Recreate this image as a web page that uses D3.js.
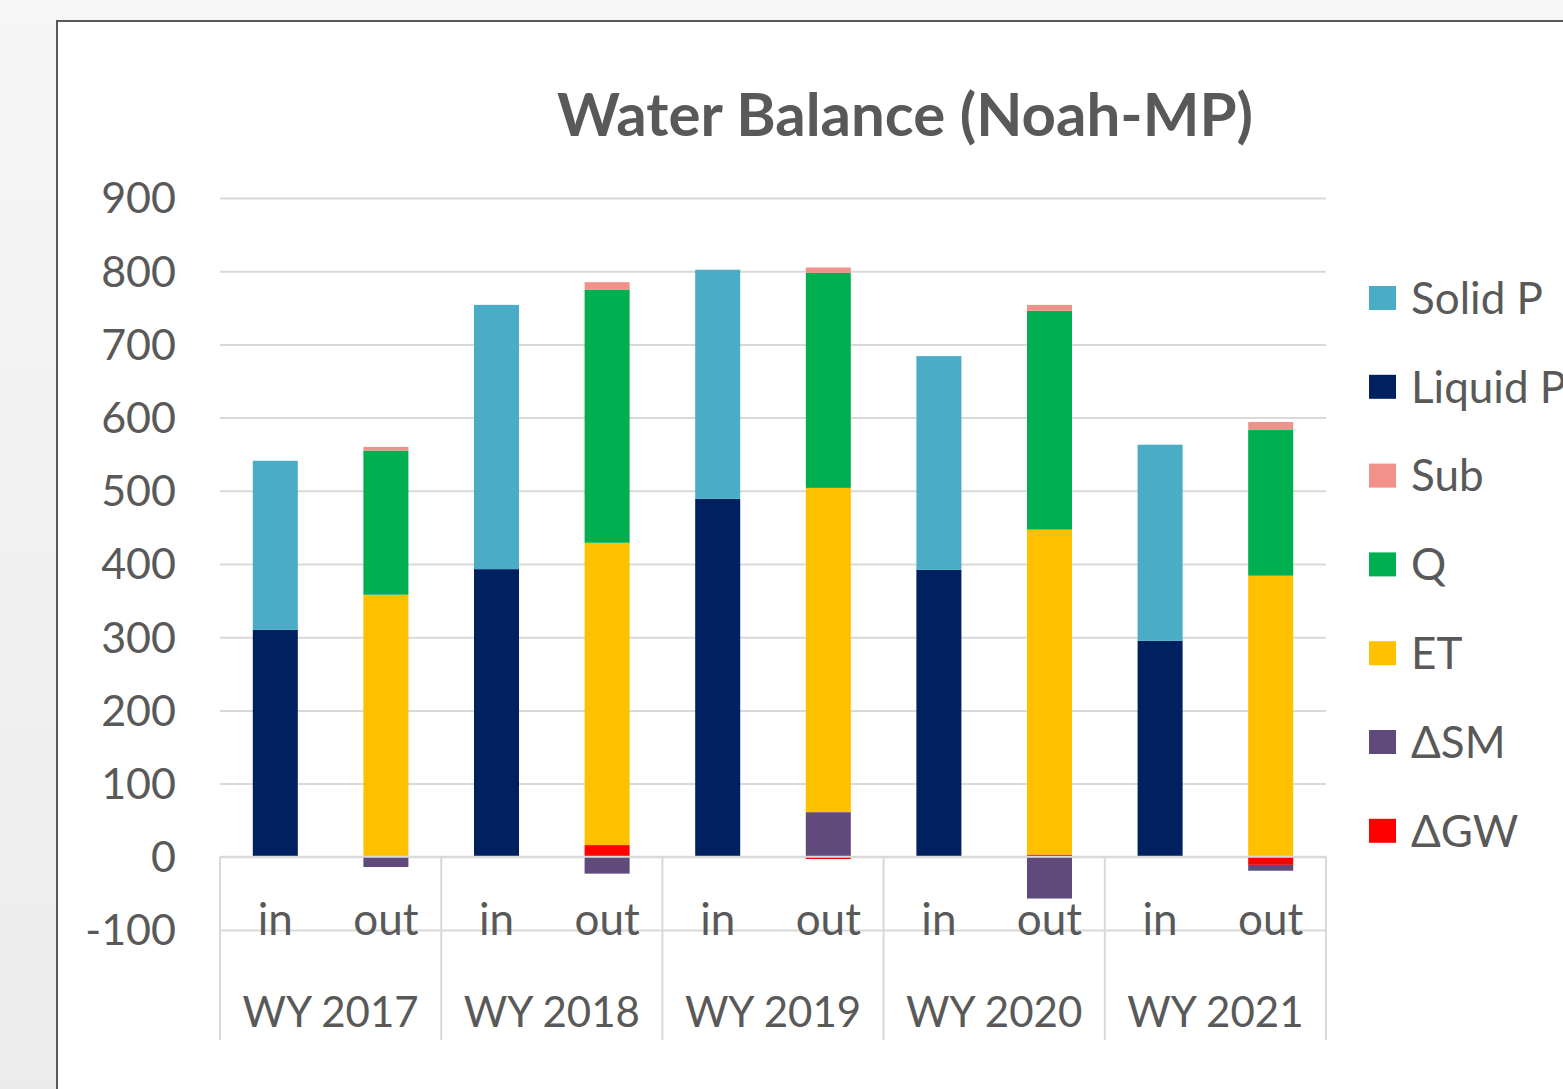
<!DOCTYPE html>
<html>
<head>
<meta charset="utf-8">
<script src="https://cdn.jsdelivr.net/npm/d3@7"></script>
<style>
  body { margin: 0; overflow: hidden; }
  text { font-family: Lato, "Open Sans", sans-serif; fill: #595959; }
</style>
</head>
<body>
<div id="container"></div>
<script>
    const years = ['WY 2017', 'WY 2018', 'WY 2019', 'WY 2020', 'WY 2021'];
    const sides = ['in', 'out'];
    // series in Excel order (bottom of stack first); legend shows them reversed
    const seriesNames = ['ΔGW', 'ΔSM', 'ET', 'Q', 'Sub', 'Liquid P', 'Solid P'];
    const seriesColors = ['#ff0000', '#604a7b', '#ffc000', '#00b050', '#f29189', '#002060', '#4bacc6'];

    // values per bar: WY2017 in, WY2017 out, WY2018 in, ...
    const solidP  = [231, 0, 361, 0, 313, 0, 292, 0, 268, 0];
    const liquidP = [310, 0, 393, 0, 489, 0, 392, 0, 295, 0];
    const sub     = [0, 5, 0, 10, 0, 7, 0, 8, 0, 11];
    const q       = [0, 197, 0, 346, 0, 294, 0, 299, 0, 199];
    const et      = [0, 358, 0, 413, 0, 443, 0, 444, 0, 384];
    const dSM     = [0, -14, 0, -23, 0, 61, 0, -57, 0, -8];
    const dGW     = [0, 0, 0, 16, 0, -3, 0, 3, 0, -11];

    const yTicks = [-100, 0, 100, 200, 300, 400, 500, 600, 700, 800, 900];

    const W = 1563, H = 1089;
    const plot = { left: 220, right: 1326, top: 198, bottom: 930 };

    const svg = d3.select('#container').append('svg')
      .attr('width', W)
      .attr('height', H);

    // backdrop behind the chart frame
    const defs = svg.append('defs');
    const grad = defs.append('linearGradient').attr('id', 'bg')
      .attr('x1', 0).attr('x2', 0).attr('y1', 0).attr('y2', 1);
    grad.append('stop').attr('offset', 0).attr('stop-color', '#f6f6f6');
    grad.append('stop').attr('offset', 1).attr('stop-color', '#ececec');
    svg.append('rect').attr('width', W).attr('height', H).attr('fill', 'url(#bg)');

    svg.append('rect')
      .attr('x', 57).attr('y', 21)
      .attr('width', W).attr('height', H)
      .attr('fill', '#ffffff')
      .attr('stroke', '#595959')
      .attr('stroke-width', 2);

    const rows = years.flatMap((yr, i) => sides.map((s, j) => {
      const k = i * 2 + j;
      return {
        key: yr + '|' + s, year: yr, side: s,
        'ΔGW': dGW[k], 'ΔSM': dSM[k], 'ET': et[k], 'Q': q[k],
        'Sub': sub[k], 'Liquid P': liquidP[k], 'Solid P': solidP[k]
      };
    }));

    const yScale = d3.scaleLinear()
      .domain([-100, 900])
      .range([plot.bottom, plot.top]);

    const xScale = d3.scaleBand()
      .domain(rows.map((r) => r.key))
      .range([plot.left, plot.right])
      .paddingInner(0.593)
      .paddingOuter(0.593 / 2);

    const groupScale = d3.scaleBand()
      .domain(years)
      .range([plot.left, plot.right]);

    // gridlines
    svg.append('g')
      .attr('class', 'grid')
      .attr('transform', `translate(${plot.left},0)`)
      .call(d3.axisLeft(yScale)
        .tickValues(yTicks)
        .tickSize(-(plot.right - plot.left))
        .tickFormat(''))
      .call((g) => g.select('.domain').remove())
      .call((g) => g.selectAll('line').attr('stroke', '#d9d9d9').attr('stroke-width', 2));

    // y tick labels
    svg.append('g')
      .selectAll('text')
      .data(yTicks)
      .enter()
      .append('text')
      .attr('x', 176)
      .attr('y', (d) => yScale(d))
      .attr('dy', '0.36em')
      .attr('text-anchor', 'end')
      .style('font-size', '43px')
      .text((d) => d);

    const stack = d3.stack()
      .keys(seriesNames)
      .offset(d3.stackOffsetDiverging);

    const layers = stack(rows);

    svg.append('g')
      .selectAll('g')
      .data(layers)
      .enter()
      .append('g')
      .attr('fill', (d, i) => seriesColors[i])
      .selectAll('rect')
      .data((d) => d.filter((p) => p[1] !== p[0]))
      .enter()
      .append('rect')
      .attr('x', (p) => xScale(p.data.key))
      .attr('width', xScale.bandwidth())
      .attr('y', (p) => yScale(Math.max(p[0], p[1])))
      .attr('height', (p) => Math.abs(yScale(p[0]) - yScale(p[1])));

    // category axis: line at zero plus group dividers
    const y0 = yScale(0);
    const axisG = svg.append('g').attr('stroke', '#d9d9d9').attr('stroke-width', 2);
    axisG.append('line')
      .attr('x1', plot.left).attr('x2', plot.right)
      .attr('y1', y0).attr('y2', y0);
    axisG.selectAll('.div')
      .data(years.concat(['end']))
      .enter()
      .append('line')
      .attr('x1', (d) => d === 'end' ? plot.right : groupScale(d))
      .attr('x2', (d) => d === 'end' ? plot.right : groupScale(d))
      .attr('y1', y0)
      .attr('y2', 1040);

    svg.append('g')
      .selectAll('text')
      .data(rows)
      .enter()
      .append('text')
      .attr('x', (r) => xScale(r.key) + xScale.bandwidth() / 2)
      .attr('y', 935)
      .attr('text-anchor', 'middle')
      .style('font-size', '44px')
      .text((r) => r.side);

    svg.append('g')
      .selectAll('text')
      .data(years)
      .enter()
      .append('text')
      .attr('x', (d) => groupScale(d) + groupScale.bandwidth() / 2)
      .attr('y', 1027)
      .attr('text-anchor', 'middle')
      .style('font-size', '42px')
      .text((d) => d);

    // title
    svg.append('text')
      .attr('x', 905)
      .attr('y', 136)
      .attr('text-anchor', 'middle')
      .style('font-size', '60px')
      .style('font-weight', 'bold')
      .text('Water Balance (Noah-MP)');

    // legend (reverse of stack order)
    const legendItems = seriesNames.map((n, i) => ({ name: n, color: seriesColors[i] })).reverse();
    const legend = svg.append('g')
      .selectAll('g')
      .data(legendItems)
      .enter()
      .append('g')
      .attr('transform', (d, i) => `translate(1369,${298 + i * 88.8})`);
    legend.append('rect')
      .attr('x', 0).attr('y', -12)
      .attr('width', 27).attr('height', 24)
      .attr('fill', (d) => d.color);
    legend.append('text')
      .attr('x', 42)
      .attr('dy', '0.36em')
      .style('font-size', '44px')
      .text((d) => d.name);
</script>
</body>
</html>
